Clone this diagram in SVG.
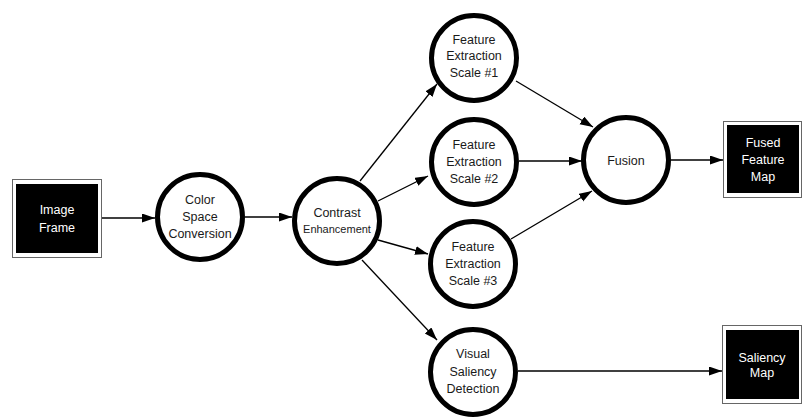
<svg xmlns="http://www.w3.org/2000/svg" width="802" height="417" viewBox="0 0 802 417">
  <defs>
    <marker id="arrow" markerUnits="userSpaceOnUse" markerWidth="14" markerHeight="10" refX="13" refY="4.5" orient="auto">
      <path d="M0,0 L13,4.5 L0,9 z" fill="#000"/>
    </marker>
  </defs>
  <style>
    .step { fill: #fff; stroke: #000; stroke-width: 5; }
    .frame { fill: #fff; stroke: #666; stroke-width: 1; }
    .core { fill: #000; }
    .lbl { font-family: "Liberation Sans", Arial, sans-serif; font-size: 12.5px; text-anchor: middle; fill: #1a1a1a; }
    .lbl-w { font-family: "Liberation Sans", Arial, sans-serif; font-size: 12.5px; text-anchor: middle; fill: #fff; }
    .edge { stroke: #000; stroke-width: 1.3; fill: none; marker-end: url(#arrow); }
  </style>

  <g id="connectors">
    <line class="edge" x1="102" y1="218" x2="155" y2="218"/>
    <line class="edge" x1="245" y1="217" x2="292" y2="217"/>
    <line class="edge" x1="360" y1="181" x2="437" y2="84"/>
    <line class="edge" x1="378" y1="201" x2="428" y2="176"/>
    <line class="edge" x1="378" y1="240" x2="428" y2="254"/>
    <line class="edge" x1="362" y1="260" x2="437" y2="340"/>
    <line class="edge" x1="516" y1="81" x2="593" y2="127"/>
    <line class="edge" x1="519" y1="161" x2="582" y2="161"/>
    <line class="edge" x1="511" y1="239" x2="592" y2="191"/>
    <line class="edge" x1="671" y1="160" x2="723" y2="160"/>
    <line class="edge" x1="518" y1="371" x2="722" y2="371"/>
  </g>

  <g id="image-frame">
    <rect class="frame" x="12.5" y="179.5" width="89" height="78"/>
    <rect class="core" x="16" y="184" width="82" height="69"/>
    <text class="lbl-w" x="57" y="214">Image</text>
    <text class="lbl-w" x="57" y="232">Frame</text>
  </g>

  <g id="color-space-conversion">
    <circle class="step" cx="200" cy="217" r="42.5"/>
    <text class="lbl" x="200" y="204">Color</text>
    <text class="lbl" x="200" y="221">Space</text>
    <text class="lbl" x="200" y="238">Conversion</text>
  </g>

  <g id="contrast-enhancement">
    <circle class="step" cx="337" cy="221" r="42.5"/>
    <text class="lbl" x="337" y="217">Contrast</text>
    <text class="lbl" x="337" y="233" style="font-size:11px">Enhancement</text>
  </g>

  <g id="feature-scale-1">
    <circle class="step" cx="474" cy="58" r="42.5"/>
    <text class="lbl" x="474" y="44">Feature</text>
    <text class="lbl" x="474" y="60">Extraction</text>
    <text class="lbl" x="474" y="77">Scale #1</text>
  </g>

  <g id="feature-scale-2">
    <circle class="step" cx="474" cy="162" r="42.5"/>
    <text class="lbl" x="474" y="149">Feature</text>
    <text class="lbl" x="474" y="166">Extraction</text>
    <text class="lbl" x="474" y="183">Scale #2</text>
  </g>

  <g id="feature-scale-3">
    <circle class="step" cx="473" cy="264" r="42.5"/>
    <text class="lbl" x="473" y="251">Feature</text>
    <text class="lbl" x="473" y="268">Extraction</text>
    <text class="lbl" x="473" y="285">Scale #3</text>
  </g>

  <g id="visual-saliency-detection">
    <circle class="step" cx="473" cy="372" r="42.5"/>
    <text class="lbl" x="473" y="358">Visual</text>
    <text class="lbl" x="473" y="376">Saliency</text>
    <text class="lbl" x="473" y="393">Detection</text>
  </g>

  <g id="fusion">
    <circle class="step" cx="626" cy="160" r="42.5"/>
    <text class="lbl" x="626" y="165">Fusion</text>
  </g>

  <g id="fused-feature-map">
    <rect class="frame" x="723.5" y="121.5" width="78" height="76"/>
    <rect class="core" x="727" y="125" width="72" height="68"/>
    <text class="lbl-w" x="763" y="147">Fused</text>
    <text class="lbl-w" x="763" y="164">Feature</text>
    <text class="lbl-w" x="763" y="181">Map</text>
  </g>

  <g id="saliency-map">
    <rect class="frame" x="722.5" y="325.5" width="79" height="78"/>
    <rect class="core" x="726" y="330" width="73" height="69"/>
    <text class="lbl-w" x="762" y="362">Saliency</text>
    <text class="lbl-w" x="762" y="377">Map</text>
  </g>
</svg>
